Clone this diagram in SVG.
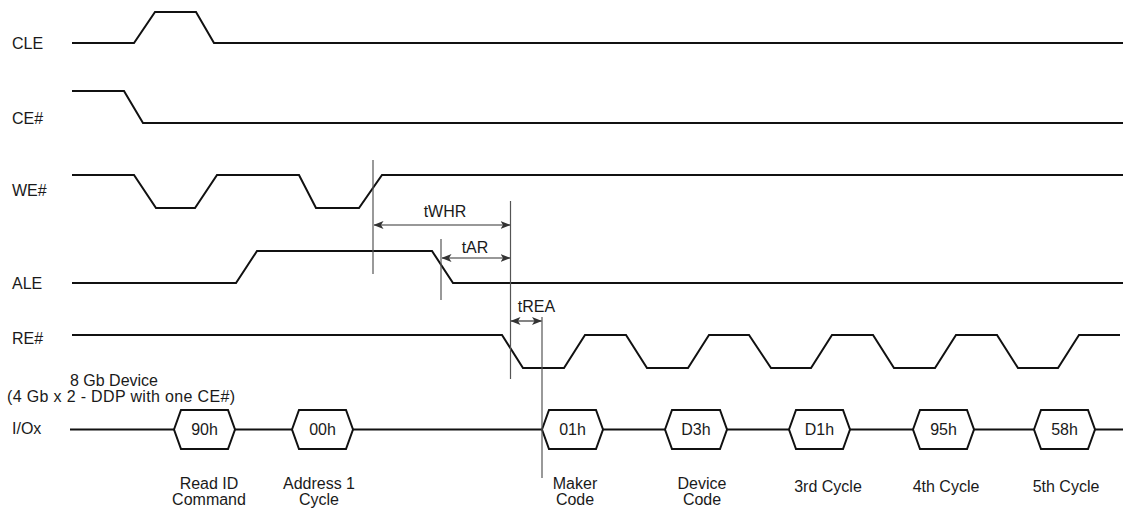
<svg xmlns="http://www.w3.org/2000/svg" width="1123" height="508" viewBox="0 0 1123 508">
<defs>
<style>
text{font-family:"Liberation Sans",Arial,sans-serif;font-size:16px;fill:#1a1a1a}
.sig{fill:none;stroke:#111;stroke-width:2;stroke-linejoin:miter}
.hex{fill:#fff;stroke:#111;stroke-width:2}
.ref{stroke:#555;stroke-width:1.2}
.dim{stroke:#333;stroke-width:1.2;marker-start:url(#ah);marker-end:url(#ah)}
.m{text-anchor:middle}
</style>
<marker id="ah" viewBox="0 0 10 8" refX="9.5" refY="4" markerWidth="10" markerHeight="8" markerUnits="userSpaceOnUse" orient="auto-start-reverse">
<path d="M0,0 L10,4 L0,8 L2.5,4 z" fill="#333"/>
</marker>
</defs>
<rect width="1123" height="508" fill="#fff"/>

<g id="CLE">
<text x="12" y="49">CLE</text>
<path class="sig" d="M72,43 L134,43 L155,12 L196,12 L214,43 L1123,43"/>
</g>
<g id="CE">
<text x="12" y="124">CE#</text>
<path class="sig" d="M72,91 L124,91 L143,123 L1123,123"/>
</g>
<g id="WE">
<text x="12" y="196">WE#</text>
<path class="sig" d="M72,175 L134,175 L156,208 L195,208 L217,175 L299,175 L316,208 L359,208 L382,175 L1123,175"/>
</g>
<g id="ALE">
<text x="12" y="289">ALE</text>
<path class="sig" d="M72,283 L236,283 L257,251 L432,251 L453,283 L1123,283"/>
</g>
<g id="RE">
<text x="12" y="344">RE#</text>
<path class="sig" d="M72,335 L502,335 L523,368 L564,368 L585,335 L626,335 L647,368 L688,368 L709,335 L749,335 L771,368 L811,368 L832,335 L873,335 L894,368 L935,368 L956,335 L997,335 L1018,368 L1058,368 L1079,335 L1120,335"/>
</g>

<g id="device-note">
<text x="114" y="386" class="m">8 Gb Device</text>
<text x="7" y="402" textLength="228" lengthAdjust="spacing">(4 Gb x 2 - DDP with one CE#)</text>
</g>

<g id="IO">
<text x="12" y="434">I/Ox</text>
<path class="sig" d="M70,429.5 L1123,429.5"/>
</g>
<g id="hex-90h">
<polygon class="hex" points="174,429.5 181,410 228,410 235,429.5 228,449 181,449"/>
<text x="204.5" y="435" class="m">90h</text>
<text x="209" y="489" class="m">Read ID</text>
<text x="209" y="505" class="m">Command</text>
</g>
<g id="hex-00h">
<polygon class="hex" points="292,429.5 299,410 346,410 353,429.5 346,449 299,449"/>
<text x="322.5" y="435" class="m">00h</text>
<text x="319" y="489" class="m">Address 1</text>
<text x="319" y="505" class="m">Cycle</text>
</g>
<g id="hex-01h">
<polygon class="hex" points="542,429.5 549,410 596,410 603,429.5 596,449 549,449"/>
<text x="572.5" y="435" class="m">01h</text>
<text x="575" y="489" class="m">Maker</text>
<text x="575" y="505" class="m">Code</text>
</g>
<g id="hex-D3h">
<polygon class="hex" points="665,429.5 672,410 720,410 727,429.5 720,449 672,449"/>
<text x="696" y="435" class="m">D3h</text>
<text x="702" y="489" class="m">Device</text>
<text x="702" y="505" class="m">Code</text>
</g>
<g id="hex-D1h">
<polygon class="hex" points="789,429.5 796,410 843,410 850,429.5 843,449 796,449"/>
<text x="819.5" y="435" class="m">D1h</text>
<text x="828" y="492" class="m">3rd Cycle</text>
</g>
<g id="hex-95h">
<polygon class="hex" points="913,429.5 920,410 967,410 974,429.5 967,449 920,449"/>
<text x="943.5" y="435" class="m">95h</text>
<text x="946" y="492" class="m">4th Cycle</text>
</g>
<g id="hex-58h">
<polygon class="hex" points="1034,429.5 1041,410 1088,410 1095,429.5 1088,449 1041,449"/>
<text x="1064.5" y="435" class="m">58h</text>
<text x="1066" y="492" class="m">5th Cycle</text>
</g>

<g id="connectors">
<line class="ref" x1="373" y1="160" x2="373" y2="274"/>
<line class="ref" x1="510.5" y1="201" x2="510.5" y2="379"/>
<line class="ref" x1="441" y1="239" x2="441" y2="300"/>
<line class="ref" x1="542" y1="317" x2="542" y2="478"/>
<line class="dim" x1="374" y1="225" x2="510" y2="225"/>
<line class="dim" x1="442" y1="258" x2="510" y2="258"/>
<line class="dim" x1="511" y1="321" x2="541.5" y2="321"/>
<text x="445" y="217" class="m">tWHR</text>
<text x="475" y="253" class="m">tAR</text>
<text x="536.5" y="312" class="m">tREA</text>
</g>
</svg>
